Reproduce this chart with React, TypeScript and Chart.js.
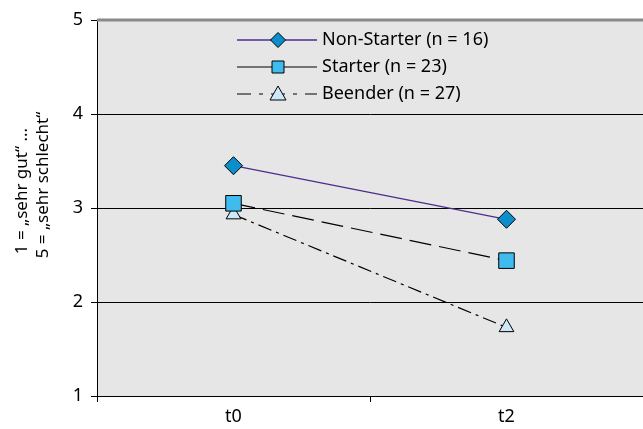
import React, { useEffect, useRef } from "react";
import { Chart, registerables } from "chart.js";
Chart.register(...registerables);

const categories = ["t0", "t2"];
const seriesNames = ["Non-Starter (n = 16)", "Starter (n = 23)", "Beender (n = 27)"];
const nonStarter = [3.45, 2.88];
const starter = [3.05, 2.44];
const beender = [2.93, 1.73];
const yTicks = [1, 2, 3, 4, 5];
const yTitle = ["1 = „sehr gut“ ...", "5 = „sehr schlecht“"];

const FONT = "'Noto Sans', 'Open Sans', sans-serif";

const bgPlugin = {
  id: "bgPlugin",
  beforeDraw(chart: any) {
    const { ctx, chartArea } = chart;
    ctx.save();
    ctx.fillStyle = "#e6e6e6";
    ctx.fillRect(chartArea.left, chartArea.top, chartArea.right - chartArea.left, chartArea.bottom - chartArea.top);
    ctx.restore();
  },
  afterDraw(chart: any) {
    const { ctx, chartArea } = chart;
    ctx.save();
    ctx.strokeStyle = "#8a8a8a";
    ctx.lineWidth = 3;
    ctx.beginPath();
    ctx.moveTo(chartArea.left, chartArea.top);
    ctx.lineTo(chartArea.right, chartArea.top);
    ctx.stroke();
    // y title
    ctx.fillStyle = "#000";
    ctx.font = `17px ${FONT}`;
    ctx.textAlign = "center";
    ctx.textBaseline = "middle";
    const tx = [22, 43];
    const ty = [191, 185];
    yTitle.forEach((t, i) => {
      ctx.save();
      ctx.translate(tx[i], ty[i]);
      ctx.rotate(-Math.PI / 2);
      ctx.fillText(t, 0, 0);
      ctx.restore();
    });
    // legend
    const x0 = 237, x1 = 317, textX = 322;
    const ys = [40, 67, 94];
    chart.data.datasets.forEach((ds: any, i: number) => {
      const y = ys[i];
      ctx.strokeStyle = ds.borderColor;
      ctx.lineWidth = ds.borderWidth;
      ctx.setLineDash(ds.legendDash || []);
      ctx.beginPath();
      ctx.moveTo(x0, y);
      ctx.lineTo(x1, y);
      ctx.stroke();
      ctx.setLineDash([]);
      const mx = 278;
      ctx.fillStyle = ds.pointBackgroundColor;
      ctx.strokeStyle = "#000";
      ctx.lineWidth = 1;
      const r = ds.legendR;
      ctx.beginPath();
      if (ds.pointStyle === "rectRot") {
        ctx.moveTo(mx, y - r); ctx.lineTo(mx + r, y); ctx.lineTo(mx, y + r); ctx.lineTo(mx - r, y); ctx.closePath();
      } else if (ds.pointStyle === "rect") {
        ctx.rect(mx - r, y - r, 2 * r, 2 * r);
      } else {
        ctx.moveTo(mx, y - r); ctx.lineTo(mx + r, y + r * 0.75); ctx.lineTo(mx - r, y + r * 0.75); ctx.closePath();
      }
      ctx.fill();
      ctx.stroke();
      ctx.fillStyle = "#000";
      ctx.font = `18px ${FONT}`;
      ctx.textBaseline = "middle";
      ctx.textAlign = "left";
      ctx.fillText(ds.label, textX, y);
    });
    ctx.restore();
  },
};

export default function App() {
  const ref = useRef<HTMLCanvasElement>(null);
  useEffect(() => {
    document.body.style.margin = "0";
    const chart = new Chart(ref.current!, {
      type: "line",
      data: {
        labels: categories,
        datasets: [
          {
            label: seriesNames[0],
            data: nonStarter,
            borderColor: "#4b2d8f",
            borderWidth: 1.3,
            pointStyle: "rectRot",
            pointRadius: 9,
            pointBackgroundColor: "#0a8fcc",
            pointBorderColor: "#000",
            pointBorderWidth: 1,
            legendR: 7.5,
          } as any,
          {
            label: seriesNames[1],
            data: starter,
            borderColor: "#000",
            borderWidth: 1.2,
            borderDash: [22, 8],
            legendDash: [],
            pointStyle: "rect",
            pointRadius: 11,
            pointBackgroundColor: "#3fbbee",
            pointBorderColor: "#000",
            pointBorderWidth: 1,
            legendR: 6,
          } as any,
          {
            label: seriesNames[2],
            data: beender,
            borderColor: "#000",
            borderWidth: 1.2,
            borderDash: [14, 5, 3, 5],
            legendDash: [14, 8, 4, 8],
            pointStyle: "triangle",
            pointRadius: 8.5,
            pointBackgroundColor: "#cde9f9",
            pointBorderColor: "#000",
            pointBorderWidth: 1,
            legendR: 8,
          } as any,
        ],
      },
      options: {
        animation: false,
        responsive: false,
        layout: { autoPadding: false, padding: { top: 20, right: 0, left: 0, bottom: 0 } },
        plugins: { legend: { display: false }, tooltip: { enabled: false } },
        scales: {
          x: {
            offset: true,
            grid: { offset: true, drawOnChartArea: false, drawTicks: true, tickLength: 6, color: "#000" },
            border: { color: "#000", width: 1 },
            ticks: { color: "#000", font: { family: FONT, size: 18 }, padding: 4 },
            afterFit: (s: any) => { s.height = 33; s.paddingLeft = 0; s.paddingRight = 0; },
          },
          y: {
            min: 1,
            max: 5,
            afterBuildTicks: (s: any) => { s.ticks = yTicks.map((v) => ({ value: v })); },
            grid: {
              color: (c: any) => (c.tick && c.tick.value === 5 ? "rgba(0,0,0,0)" : "#000"),
              tickLength: 6,
              tickColor: "#000",
            },
            border: { color: "#000", width: 1 },
            ticks: { color: "#000", font: { family: FONT, size: 18 }, padding: 8 },
            afterFit: (s: any) => { s.width = 97; s.paddingTop = 0; s.paddingBottom = 0; },
          },
        },
      },
      plugins: [bgPlugin],
    });
    return () => chart.destroy();
  }, []);
  return <canvas ref={ref} width={643} height={429} style={{ display: "block" }} />;
}
